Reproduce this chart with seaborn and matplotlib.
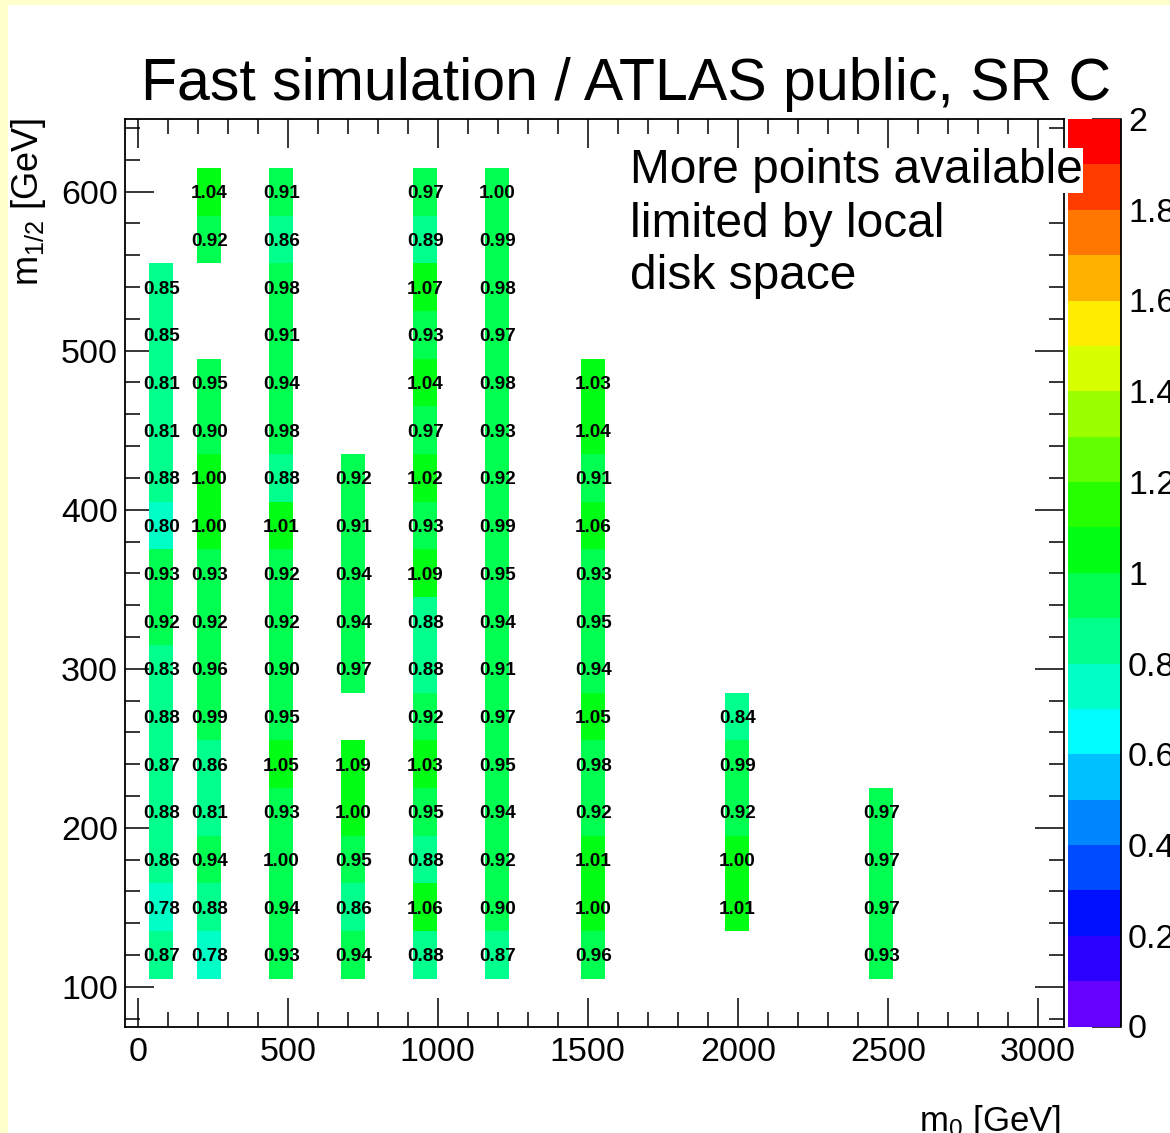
import numpy as np
import pandas as pd
import matplotlib
matplotlib.use("Agg")
import matplotlib.pyplot as plt
import matplotlib.colors as mcolors
from matplotlib.ticker import MultipleLocator, FixedLocator, FuncFormatter
from matplotlib.patches import Rectangle
import seaborn as sns

# ---------------- data ----------------
m12_rows = [600, 570, 540, 510, 480, 450, 420, 390, 360, 330, 300, 270, 240, 210, 180, 150, 120]
m0_bins = [78, 238, 478, 718, 958, 1198, 1518, 1998, 2478]
N = None
ratio_m0_78 = [N, N, 0.85, 0.85, 0.81, 0.81, 0.88, 0.798, 0.93, 0.92, 0.83, 0.88, 0.87, 0.88, 0.86, 0.78, 0.87]
ratio_m0_238 = [1.04, 0.92, N, N, 0.95, 0.90, 1.00, 1.00, 0.93, 0.92, 0.96, 0.99, 0.86, 0.81, 0.94, 0.88, 0.78]
ratio_m0_478 = [0.91, 0.86, 0.98, 0.91, 0.94, 0.98, 0.88, 1.01, 0.92, 0.92, 0.90, 0.95, 1.05, 0.93, 0.997, 0.94, 0.93]
ratio_m0_718 = [N, N, N, N, N, N, 0.92, 0.91, 0.94, 0.94, 0.97, N, 1.09, 1.00, 0.95, 0.86, 0.94]
ratio_m0_958 = [0.97, 0.89, 1.07, 0.93, 1.04, 0.97, 1.02, 0.93, 1.09, 0.88, 0.88, 0.92, 1.03, 0.95, 0.88, 1.06, 0.88]
ratio_m0_1198 = [0.997, 0.99, 0.98, 0.97, 0.98, 0.93, 0.92, 0.99, 0.95, 0.94, 0.91, 0.97, 0.95, 0.94, 0.92, 0.90, 0.87]
ratio_m0_1518 = [N, N, N, N, 1.03, 1.04, 0.91, 1.06, 0.93, 0.95, 0.94, 1.05, 0.98, 0.92, 1.01, 1.00, 0.96]
ratio_m0_1998 = [N, N, N, N, N, N, N, N, N, N, N, 0.84, 0.99, 0.92, 1.00, 1.01, N]
ratio_m0_2478 = [N, N, N, N, N, N, N, N, N, N, N, N, N, 0.97, 0.97, 0.97, 0.93]
ratio_cols = [ratio_m0_78, ratio_m0_238, ratio_m0_478, ratio_m0_718, ratio_m0_958,
              ratio_m0_1198, ratio_m0_1518, ratio_m0_1998, ratio_m0_2478]

x_ticks = [0, 500, 1000, 1500, 2000, 2500, 3000]
y_ticks = [100, 200, 300, 400, 500, 600]
z_ticks = [0, 0.2, 0.4, 0.6, 0.8, 1.0, 1.2, 1.4, 1.6, 1.8, 2.0]

title = "Fast simulation / ATLAS public, SR C"
note_lines = ["More points available", "limited by local", "disk space"]
xlabel = r"m$_{\mathrm{0}}$ [GeV]"
ylabel = r"m$_{\mathrm{1/2}}$ [GeV]"

records = []
for m0, col in zip(m0_bins, ratio_cols):
    for m12, r in zip(m12_rows, col):
        if r is not None:
            records.append((m0, m12, r))
df = pd.DataFrame(records, columns=["m0", "m12", "ratio"])

# ---------------- style ----------------
sns.set_style("white")
plt.rcParams["font.family"] = ["Liberation Sans", "DejaVu Sans"]
plt.rcParams["mathtext.fontset"] = "custom"
plt.rcParams["mathtext.rm"] = "Liberation Sans"
plt.rcParams["mathtext.it"] = "Liberation Sans"
plt.rcParams["mathtext.bf"] = "Liberation Sans:bold"
for key in ["text.color", "axes.labelcolor", "xtick.color", "ytick.color", "axes.edgecolor"]:
    plt.rcParams[key] = "black"

# ROOT-like rainbow palette, 20 contour levels
hues = np.linspace(264, 0, 20) / 360.0
pal = mcolors.hsv_to_rgb(np.column_stack([hues, np.ones(20), np.ones(20)]))
cmap = mcolors.ListedColormap(pal)

W, H = 1170, 1133
fig = plt.figure(figsize=(W / 100, H / 100), dpi=100, facecolor="#FFFFCC")
fig.patches.append(Rectangle((7.5 / W, 0), 1, 1 - 5 / H, transform=fig.transFigure,
                             facecolor="white", edgecolor="none", zorder=-10))

def fx(px):
    return px / W

def fy(py):
    return 1 - py / H

ax = fig.add_axes([fx(125), fy(1027.3), (1063.9 - 125) / W, (1027.3 - 119) / H])
cax = fig.add_axes([fx(1067.5), fy(1026.5), (1121 - 1067.5) / W, (1026.5 - 119) / H])

xedges = np.arange(-42, 3100, 80)
yedges = np.arange(75, 646, 30)
sns.histplot(data=df, x="m0", y="m12", weights="ratio", bins=(xedges, yedges),
             cmap=cmap, vmin=0, vmax=2, cbar=True, cbar_ax=cax, ax=ax)

for m0, m12, r in df.itertuples(index=False):
    ax.text(m0, m12, f"{r:.2f}", ha="center", va="center_baseline",
            fontsize=13.6, fontweight="bold", color="black", zorder=5)

ax.set_xlim(-42.5, 3087)
ax.set_ylim(74.5, 645.7)
ax.set_xlabel("")
ax.set_ylabel("")
ax.xaxis.set_major_locator(FixedLocator(x_ticks))
ax.xaxis.set_minor_locator(MultipleLocator(100))
ax.yaxis.set_major_locator(FixedLocator(y_ticks))
ax.yaxis.set_minor_locator(MultipleLocator(20))
ax.tick_params(which="both", direction="in", top=True, right=True, bottom=True, left=True,
               width=1.1, color="black")
ax.tick_params(which="major", length=21, labelsize=24.5, labelcolor="black")
ax.tick_params(axis="x", which="major", pad=7)
ax.tick_params(axis="y", which="major", pad=5)
ax.tick_params(which="minor", length=10.5)
for s in ax.spines.values():
    s.set_linewidth(1.3)
    s.set_color("black")
ax.grid(False)

cbar = ax.collections[0].colorbar
cbar.set_ticks(z_ticks)
cax.yaxis.set_major_formatter(FuncFormatter(lambda v, p: f"{v:g}"))
cbar.outline.set_visible(False)
cax.minorticks_off()
cax.tick_params(which="major", direction="in", length=21, width=1.1, labelsize=24.5,
                pad=5, right=True, left=False, color="black", labelcolor="black")
cax.plot([1, 1], [0, 1], transform=cax.transAxes, color="black", lw=1.3, clip_on=False)

fig.text(fx(626), fy(100), title, ha="center", va="baseline", fontsize=42.5, color="black")
fig.text(fx(630), fy(182.6), note_lines[0], ha="left", va="baseline", fontsize=34.5,
         color="black", bbox=dict(facecolor="white", edgecolor="none", pad=0), zorder=10)
fig.text(fx(630), fy(236.7), note_lines[1], ha="left", va="baseline", fontsize=34.5,
         color="black", zorder=10)
fig.text(fx(630), fy(289), note_lines[2], ha="left", va="baseline", fontsize=34.5,
         color="black", zorder=10)

fig.text(fx(28), fy(118), ylabel, rotation=90, ha="center", va="top", fontsize=26, color="black")
fig.text(fx(1061), fy(1131), xlabel, ha="right", va="baseline", fontsize=25, color="black")

fig.savefig("out.png", dpi=100)
